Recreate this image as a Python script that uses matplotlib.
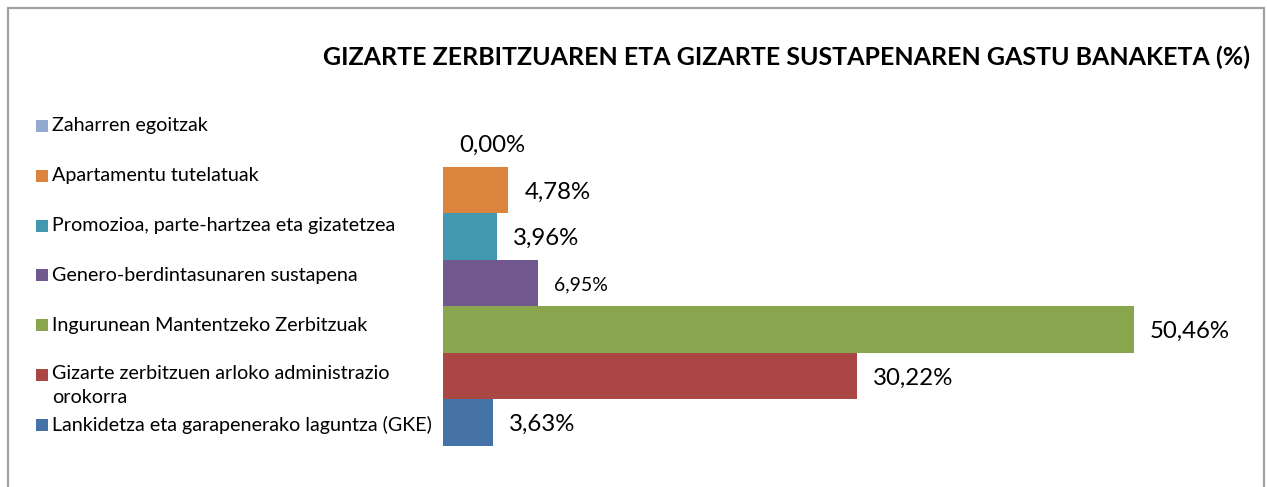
import numpy as np
import matplotlib.pyplot as plt
from matplotlib.patches import Rectangle
import matplotlib as mpl

mpl.rcParams['font.family'] = ['Lato', 'DejaVu Sans']

# data, top row first
categories = ['Zaharren egoitzak',
              'Apartamentu tutelatuak',
              'Promozioa, parte-hartzea eta gizatetzea',
              'Genero-berdintasunaren sustapena',
              'Ingurunean Mantentzeko Zerbitzuak',
              'Gizarte zerbitzuen arloko administrazio\norokorra',
              'Lankidetza eta garapenerako laguntza (GKE)']
values = [0.00, 4.78, 3.96, 6.95, 50.46, 30.22, 3.63]
colors = ['#93A9CF', '#DB843D', '#4198AF', '#71588F',
          '#89A54E', '#AA4643', '#4572A7']
title = 'GIZARTE ZERBITZUAREN ETA GIZARTE SUSTAPENAREN GASTU BANAKETA (%)'

W, H = 1267, 487
fig = plt.figure(figsize=(W / 100, H / 100), dpi=100)


def fx(px):
    return px / W


def fy(py):
    return 1 - py / H


# plot area in pixels
left, right, top, bottom = 443, 1200, 120, 446
ax = fig.add_axes([fx(left), fy(bottom), fx(right - left), (bottom - top) / H])
px_per_pct = 691 / 50.46
n = len(values)
ypos = np.arange(n)
ax.barh(ypos, values, height=1.0, color=colors, linewidth=0)
ax.set_xlim(0, (right - left) / px_per_pct)
ax.set_ylim(n - 0.5, -0.5)
ax.set_axis_off()

for i, v in enumerate(values):
    size = 14 if i == 3 else 17.3
    ax.annotate(f'{v:.2f}%'.replace('.', ','), (v, i),
                xytext=(11.5, -1.5), textcoords='offset points',
                ha='left', va='center', fontsize=size, color='#000000')

# legend drawn by hand, Excel style
for i, (name, c) in enumerate(zip(categories, colors)):
    yc = 126 + 49.8 * i
    fig.patches.append(Rectangle((fx(36), fy(yc + 6)), fx(12), 12 / H,
                                 transform=fig.transFigure,
                                 facecolor=c, edgecolor='none'))
    if '\n' in name:
        fig.text(fx(52), fy(yc - 10), name, ha='left', va='top',
                 fontsize=14.2, linespacing=1.5)
    else:
        fig.text(fx(52), fy(yc), name, ha='left', va='center', fontsize=14.2)

fig.text(fx(1250), fy(57), title, ha='right', va='center',
         fontsize=18, fontweight='bold')

# chart frame
fig.patches.append(Rectangle((fx(8), fy(H + 20)), fx(1264 - 8), (H + 12) / H,
                             transform=fig.transFigure, facecolor='none',
                             edgecolor='#A0A0A0', linewidth=1.6))

fig.savefig('out.png', dpi=100)
